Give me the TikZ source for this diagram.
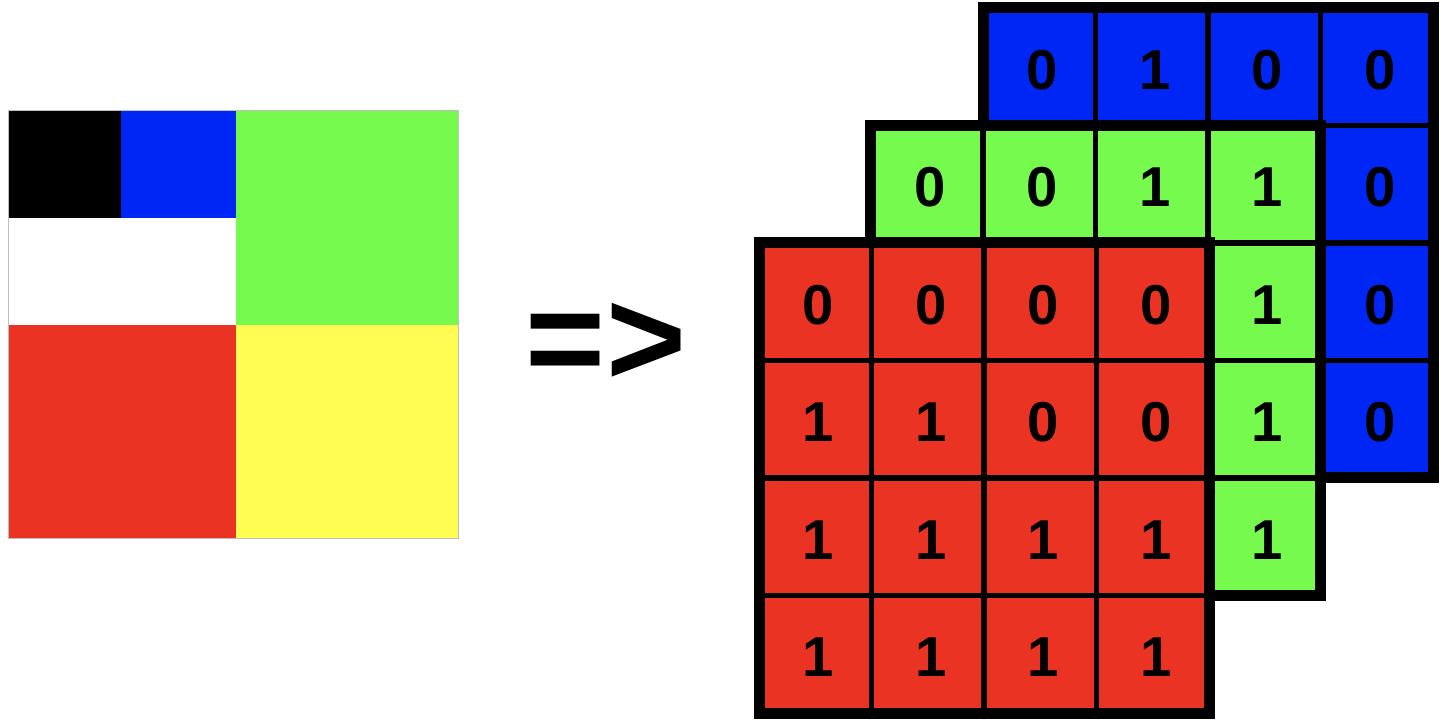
\documentclass[tikz,border=0pt]{standalone}
\usepackage{fontspec}
\setmainfont{Liberation Sans}
\usepackage{tikz}
\usetikzlibrary{positioning,calc}

\definecolor{pixred}{RGB}{235,51,36}
\definecolor{pixgreen}{RGB}{118,250,77}
\definecolor{pixblue}{RGB}{0,38,245}
\definecolor{pixyellow}{RGB}{255,252,82}
\definecolor{pixedge}{RGB}{190,190,190}

\newcommand{\cellw}{112.5}
\newcommand{\cellh}{117.5}

\tikzset{
  frame/.style={line width=1.1mm},
  sep/.style={line width=0.55mm},
  cell/.style={inner sep=0pt, xshift=0.3mm, yshift=-0.3mm,
    font=\fontsize{16}{16}\selectfont\bfseries}
}

\begin{document}
\begin{tikzpicture}[x=0.1mm, y=-0.1mm]
    \useasboundingbox (0,0) rectangle (1440,728);

    % 4x4 input image
    \fill[black] (8,111) rectangle (121,218);
    \fill[pixblue] (121,111) rectangle (236,218);
    \fill[white] (8,218) rectangle (236,325);
    \fill[pixgreen] (236,111) rectangle (458,325);
    \fill[pixred] (8,325) rectangle (236,539);
    \fill[pixyellow] (236,325) rectangle (458,539);
    \draw[pixedge, line width=0.1mm] (8,111) rectangle (458,539);

    \node[font=\fontsize{39}{39}\selectfont\bfseries] (arrow) at (606,344) {=>};

    % blue channel (back)
    \fill[pixblue] (983,8) rectangle ++(4*\cellw,4*\cellh);
    \foreach \i in {1,2,3} {
        \draw[sep] ({983+\i*\cellw},8) -- ++(0,4*\cellh);
        \draw[sep] (983,{8+\i*\cellh}) -- ++(4*\cellw,0);
    }
    \draw[frame] (983,8) rectangle ++(4*\cellw,4*\cellh);
    \foreach \c/\r/\v in {1/1/0,2/1/1,3/1/0,4/1/0,4/2/0,4/3/0,4/4/0}
        \node[cell] (b\c\r) at ({983+(\c-0.5)*\cellw},{8+(\r-0.5)*\cellh}) {\v};

    % green channel
    \fill[pixgreen] (870.5,125.5) rectangle ++(4*\cellw,4*\cellh);
    \foreach \i in {1,2,3} {
        \draw[sep] ({870.5+\i*\cellw},125.5) -- ++(0,4*\cellh);
        \draw[sep] (870.5,{125.5+\i*\cellh}) -- ++(4*\cellw,0);
    }
    \draw[frame] (870.5,125.5) rectangle ++(4*\cellw,4*\cellh);
    \foreach \c/\r/\v in {1/1/0,2/1/0,3/1/1,4/1/1,4/2/1,4/3/1,4/4/1}
        \node[cell] (g\c\r) at ({870.5+(\c-0.5)*\cellw},{125.5+(\r-0.5)*\cellh}) {\v};

    % red channel (front)
    \fill[pixred] (759,243) rectangle ++(4*\cellw,4*\cellh);
    \foreach \i in {1,2,3} {
        \draw[sep] ({759+\i*\cellw},243) -- ++(0,4*\cellh);
        \draw[sep] (759,{243+\i*\cellh}) -- ++(4*\cellw,0);
    }
    \draw[frame] (759,243) rectangle ++(4*\cellw,4*\cellh);
    \foreach \r/\row in {1/{0,0,0,0},2/{1,1,0,0},3/{1,1,1,1},4/{1,1,1,1}}
        \foreach \v [count=\c] in \row
            \node[cell] (r\c\r) at ({759+(\c-0.5)*\cellw},{243+(\r-0.5)*\cellh}) {\v};
\end{tikzpicture}
\end{document}
